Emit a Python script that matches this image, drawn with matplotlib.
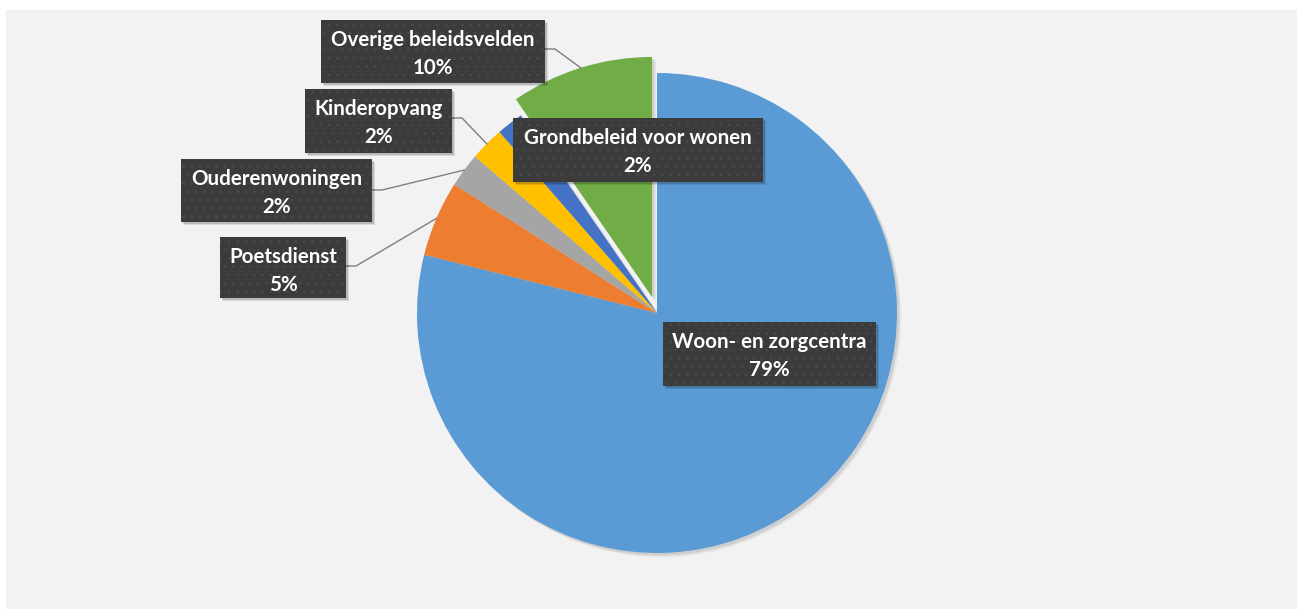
import matplotlib
matplotlib.use("Agg")
import matplotlib.pyplot as plt
from matplotlib.patches import Rectangle
from matplotlib.lines import Line2D
import numpy as np

plt.rcParams['font.family'] = ['Lato', 'DejaVu Sans']
plt.rcParams['hatch.linewidth'] = 0.6

# ---- data (clockwise from 12 o'clock) ----
categories = ["Woon- en zorgcentra", "Poetsdienst", "Ouderenwoningen",
              "Kinderopvang", "Grondbeleid voor wonen", "Overige beleidsvelden"]
values = [78.9, 5.1, 2.3, 2.3, 1.8, 9.6]
colors = ["#5B9BD5", "#ED7D31", "#A5A5A5", "#FFC000", "#4472C4", "#70AD47"]
explode = [0, 0, 0, 0, 0, 0.07]

# label box layout in pixels: (left, top, right, bottom)
boxes = {
    "Woon- en zorgcentra": (663, 322, 876, 386),
    "Poetsdienst": (220, 237, 346, 298),
    "Ouderenwoningen": (181, 159, 372, 222),
    "Kinderopvang": (305, 89, 452, 153),
    "Grondbeleid voor wonen": (513, 118, 763, 182),
    "Overige beleidsvelden": (321, 20, 545, 83),
}
# leader line anchor on box (pixel y on right edge)
leaders = {
    "Poetsdienst": 266,
    "Ouderenwoningen": 190,
    "Kinderopvang": 118,
    "Overige beleidsvelden": 49,
}

W, H = 1297, 609
fig = plt.figure(figsize=(W / 100, H / 100), dpi=100)
fig.patch.set_facecolor("white")

def fx(px):
    return px / W

def fy(py):
    return 1 - py / H

# gray panel
fig.patches.append(Rectangle((fx(6), 0), fx(W) - fx(6), fy(10), transform=fig.transFigure,
                             facecolor="#F2F2F2", edgecolor="none", zorder=-5))

ax = fig.add_axes([0, 0, 1, 1])
ax.set_zorder(1)
ax.patch.set_visible(False)
cx, cy, R = 657, 313, 240.0

# soft shadow under the pie
for off, col in [(4, "#E4E4E4"), (2.5, "#CFCFCF")]:
    ax.pie(values, colors=[col] * len(values), startangle=90, counterclock=False,
           explode=explode, radius=1.0, center=(off / R, -off / R),
           wedgeprops=dict(linewidth=0))

wedges, _ = ax.pie(values, colors=colors, startangle=90, counterclock=False,
                   explode=explode, radius=1.0,
                   wedgeprops=dict(linewidth=0))
ax.set_aspect("auto")
ax.set_xlim(-cx / R, (W - cx) / R)
ax.set_ylim(-(H - cy) / R, cy / R)
ax.axis("off")

total = sum(values)
to_fig = ax.transData + fig.transFigure.inverted()

for w, name, v in zip(wedges, categories, values):
    l, t, r, b = boxes[name]
    # shadow
    for k, a in [(3, 0.10), (2, 0.15)]:
        fig.patches.append(Rectangle((fx(l + k), fy(b + k)), fx(r) - fx(l), fy(t) - fy(b),
                                     transform=fig.transFigure, facecolor="black",
                                     alpha=a, edgecolor="none", zorder=5))
    fig.patches.append(Rectangle((fx(l), fy(b)), fx(r) - fx(l), fy(t) - fy(b),
                                 transform=fig.transFigure, facecolor="#3B3B3B",
                                 edgecolor="#4A4A4A", linewidth=0, hatch="..", zorder=6))
    xc = (l + r) / 2
    fig.text(fx(xc), fy(t + 26), name, ha="center", va="baseline", color="white",
             fontsize=14.8, fontweight="bold", zorder=7)
    fig.text(fx(xc), fy(t + 54), f"{v / total * 100:.0f}%", ha="center", va="baseline",
             color="white", fontsize=14.8, fontweight="bold", zorder=7)
    if name in leaders:
        ly = leaders[name]
        mid = np.deg2rad((w.theta1 + w.theta2) / 2)
        px = w.center[0] + w.r * np.cos(mid)
        py = w.center[1] + w.r * np.sin(mid)
        tx, ty = to_fig.transform((px, py))
        line = Line2D([fx(r), fx(r + 10), tx], [fy(ly), fy(ly), ty],
                      transform=fig.transFigure, color="#7F7F7F", linewidth=1.0, zorder=4)
        fig.lines.append(line)

fig.savefig("out.png", dpi=100, facecolor=fig.get_facecolor())
